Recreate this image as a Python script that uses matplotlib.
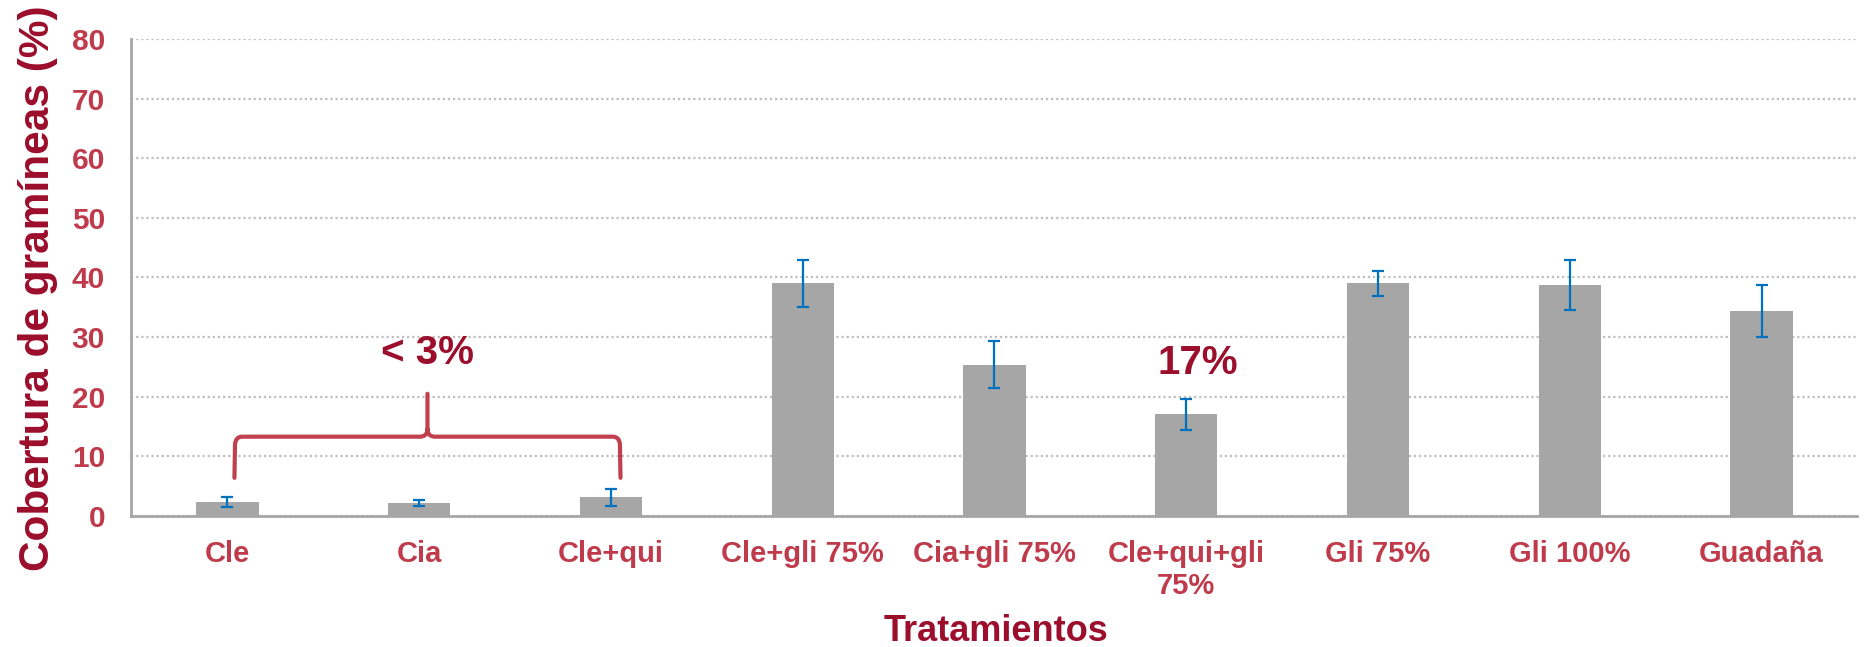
import matplotlib
matplotlib.use("Agg")
import matplotlib.pyplot as plt
from matplotlib.path import Path
import matplotlib.patches as mpatches
import numpy as np

# data
tratamientos = ["Cle", "Cia", "Cle+qui", "Cle+gli 75%", "Cia+gli 75%",
                "Cle+qui+gli\n75%", "Gli 75%", "Gli 100%", "Guadaña"]
cobertura = [2.4, 2.2, 3.1, 39.0, 25.4, 17.1, 39.0, 38.7, 34.4]
error = [0.85, 0.55, 1.5, 4.0, 4.0, 2.6, 2.1, 4.2, 4.3]
y_ticks = [0, 10, 20, 30, 40, 50, 60, 70, 80]

# annotations
bracket_group = (0, 2)      # categories under the "< 3%" brace
bracket_label = "< 3%"
label_17 = "17%"
label_17_idx = 5

BAR = "#A6A6A6"
ERR = "#0070C0"
TICK_RED = "#BF3A4B"
DARK_RED = "#9B0E2C"
FONT = ["Liberation Sans", "DejaVu Sans"]

plt.rcParams["font.family"] = FONT
plt.rcParams["font.weight"] = "bold"

fig = plt.figure(figsize=(18.7, 6.47), dpi=100)
ax = fig.add_axes([0.0703, 0.2025, 0.9933 - 0.0703, 0.9397 - 0.2025])

x = np.arange(len(tratamientos))
ax.bar(x, cobertura, width=0.325, color=BAR, zorder=2)
ax.errorbar(x, cobertura, yerr=error, fmt="none", ecolor=ERR,
            elinewidth=1.6, capsize=4.3, capthick=1.6, zorder=3)

ax.set_xlim(-0.5, len(tratamientos) - 0.5)
ax.set_ylim(0, 80)
ax.set_yticks(y_ticks)
ax.set_xticks(x)
ax.set_xticklabels(tratamientos, linespacing=1.2)

ax.yaxis.grid(True, color="#BFBFBF", linestyle=(0, (1, 1.3)), linewidth=1.6)
ax.set_axisbelow(True)

for s in ("top", "right"):
    ax.spines[s].set_visible(False)
for s in ("left", "bottom"):
    ax.spines[s].set_color("#A6A6A6")
    ax.spines[s].set_linewidth(2)

ax.tick_params(axis="y", length=0, pad=19, labelsize=21.5, labelcolor=TICK_RED)
ax.tick_params(axis="x", length=0, pad=17, labelsize=21, labelcolor=TICK_RED)
for lab in ax.get_xticklabels() + ax.get_yticklabels():
    lab.set_fontweight("bold")

# brace over the first three treatments
g0, g1 = bracket_group
xl, xr = g0 + 0.037, g1 + 0.05
xm = (xl + xr) / 2
y_end, y_bar, y_peak = 6.4, 13.3, 20.5
dx, dy = 0.04, 1.3
verts = [
    (xl, y_end), (xl + 0.003, y_bar - dy), (xl + 0.006, y_bar), (xl + dx, y_bar),
    (xm - dx, y_bar), (xm, y_bar), (xm, y_bar + dy), (xm, y_peak),
    (xm, y_bar + dy), (xm, y_bar), (xm + dx, y_bar),
    (xr - dx, y_bar), (xr - 0.006, y_bar), (xr - 0.003, y_bar - dy), (xr, y_end),
]
codes = [
    Path.MOVETO, Path.LINETO, Path.CURVE3, Path.CURVE3,
    Path.LINETO, Path.CURVE3, Path.CURVE3, Path.LINETO,
    Path.MOVETO, Path.CURVE3, Path.CURVE3,
    Path.LINETO, Path.CURVE3, Path.CURVE3, Path.LINETO,
]
ax.add_patch(mpatches.PathPatch(Path(verts, codes), facecolor="none",
                                edgecolor="#C0404F", linewidth=3,
                                capstyle="round", joinstyle="round", zorder=4))

ax.text(xm, 27.3, bracket_label, ha="center", va="center", fontsize=29,
        fontweight="bold", color=DARK_RED)
ax.text(label_17_idx + 0.06, 25.6, label_17, ha="center", va="center",
        fontsize=29, fontweight="bold", color=DARK_RED)

fig.text(0.0203, 0.555, "Cobertura de gramíneas (%)", rotation=90,
         ha="center", va="center", fontsize=30.5, fontweight="bold",
         color=DARK_RED)
fig.text(0.5326, 0.0093, "Tratamientos", ha="center", va="baseline",
         fontsize=26, fontweight="bold", color=DARK_RED)

fig.savefig("out.png", dpi=100)
